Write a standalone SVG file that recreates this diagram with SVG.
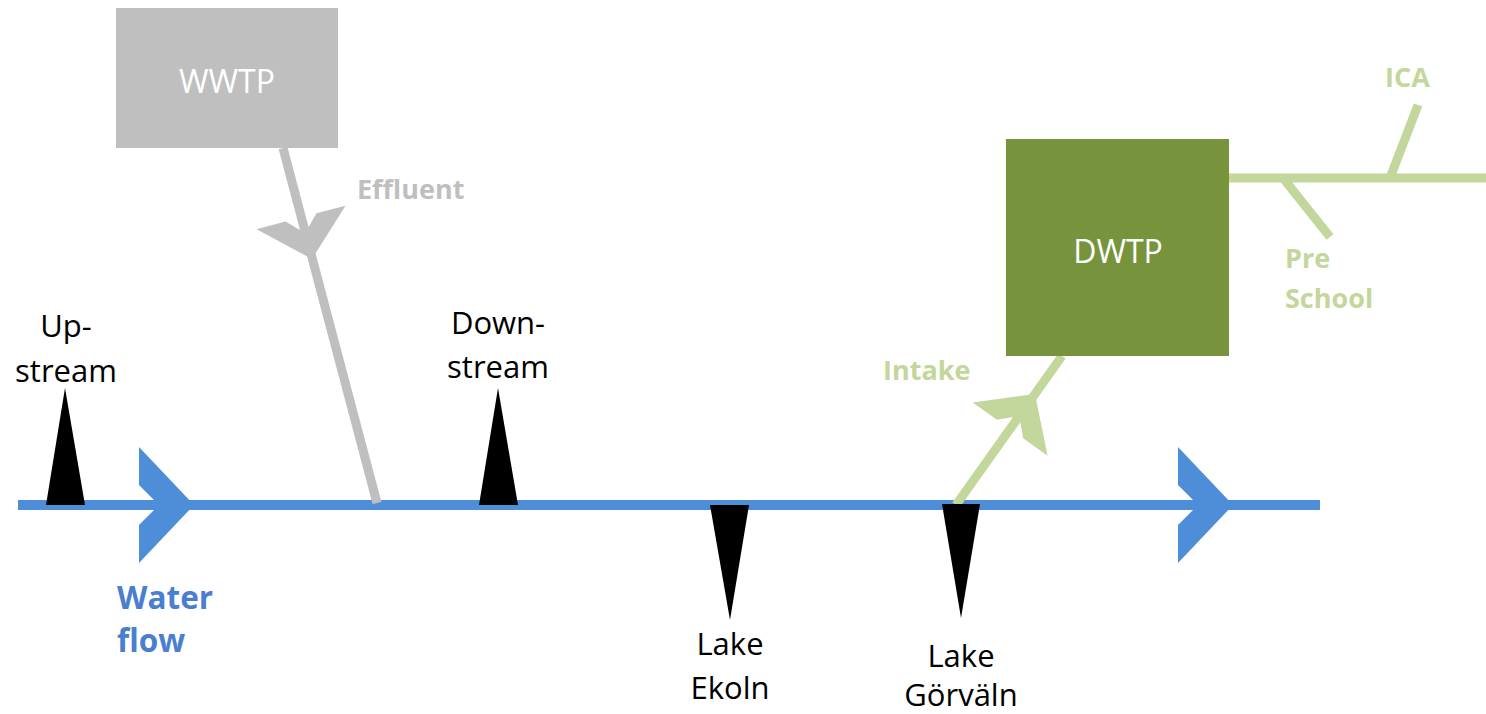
<svg xmlns="http://www.w3.org/2000/svg" width="1486" height="714" viewBox="0 0 1486 714">
  <defs>
    <style>
      .lbl { font-family: "Open Sans", "Liberation Sans", sans-serif; }
      .blk { font-size: 31px; fill: #000000; text-anchor: middle; }
      .bold { font-weight: bold; font-size: 27px; }
      .gray { fill: #bfbfbf; }
      .lgreen { fill: #c3d69b; }
      .boxtxt { font-size: 32px; fill: #ffffff; text-anchor: middle; }
      .marker { fill: #000000; }
      .flow { font-size: 31.5px; font-weight: bold; fill: #4a7fd0; }
    </style>
    <!-- chevron head pointing along +x, tip at origin -->
    <polygon id="head" points="0,0 -43,-46 -43,-16 -27,0 -43,16 -43,46"/>
    <polygon id="flowhead" points="0,-58 55,0 0,58 0,20 20,0 0,-20" fill="#4e8ed9"/>
  </defs>

  <!-- connectors -->
  <g id="connectors">
    <!-- river -->
    <line x1="18" y1="505" x2="1320" y2="505" stroke="#4e8ed9" stroke-width="10"/>
    <use href="#flowhead" x="139" y="505"/>
    <use href="#flowhead" x="1178" y="505"/>
    <!-- effluent -->
    <line x1="283" y1="148" x2="377" y2="503" stroke="#bfbfbf" stroke-width="9"/>
    <use href="#head" fill="#bfbfbf" transform="translate(312,259) rotate(75.2)"/>
    <!-- intake -->
    <line x1="956" y1="505" x2="1062" y2="356" stroke="#c3d69b" stroke-width="9"/>
    <use href="#head" fill="#c3d69b" transform="translate(1035,394) rotate(-54.6)"/>
    <!-- distribution -->
    <line x1="1229" y1="178" x2="1486" y2="178" stroke="#c3d69b" stroke-width="9"/>
    <line x1="1283" y1="178" x2="1330" y2="237" stroke="#c3d69b" stroke-width="9"/>
    <line x1="1390" y1="178" x2="1418" y2="105" stroke="#c3d69b" stroke-width="9"/>
  </g>

  <g id="wwtp">
    <rect x="116" y="8" width="222" height="140" fill="#bfbfbf"/>
    <text class="lbl boxtxt" x="227" y="93">WWTP</text>
  </g>

  <g id="dwtp">
    <rect x="1006" y="139" width="223" height="217" fill="#77933c"/>
    <text class="lbl boxtxt" x="1118" y="263">DWTP</text>
  </g>

  <g id="effluent-label">
    <text class="lbl bold gray" x="357" y="199">Effluent</text>
  </g>

  <g id="intake-label">
    <text class="lbl bold lgreen" x="883" y="380">Intake</text>
  </g>

  <g id="ica">
    <text class="lbl bold lgreen" x="1385" y="87">ICA</text>
  </g>

  <g id="preschool">
    <text class="lbl bold lgreen" x="1285" y="268">Pre</text>
    <text class="lbl bold lgreen" x="1285" y="308">School</text>
  </g>

  <g id="water-flow">
    <text class="lbl flow" x="117" y="609">Water</text>
    <text class="lbl flow" x="117" y="652">flow</text>
  </g>

  <g id="upstream">
    <polygon class="marker" points="46,505 85,505 65,388"/>
    <text class="lbl blk" x="66" y="337">Up-</text>
    <text class="lbl blk" x="66" y="382">stream</text>
  </g>

  <g id="downstream">
    <polygon class="marker" points="479,505 518,505 498,388"/>
    <text class="lbl blk" x="498" y="334">Down-</text>
    <text class="lbl blk" x="498" y="378">stream</text>
  </g>

  <g id="lake-ekoln">
    <polygon class="marker" points="710,505 749,505 730,620"/>
    <text class="lbl blk" x="730" y="655">Lake</text>
    <text class="lbl blk" x="730" y="699">Ekoln</text>
  </g>

  <g id="lake-gorvaln">
    <polygon class="marker" points="942,504 980,504 961,618"/>
    <text class="lbl blk" x="961" y="667">Lake</text>
    <text class="lbl blk" x="961" y="706">Görväln</text>
  </g>
</svg>
